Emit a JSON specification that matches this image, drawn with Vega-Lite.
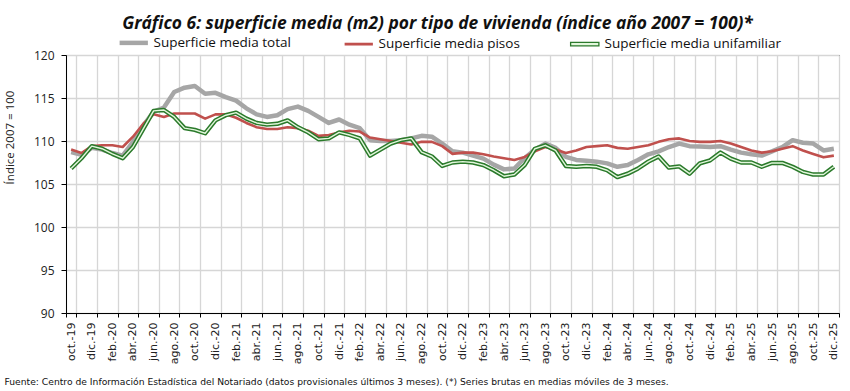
{
  "$schema": "https://vega.github.io/schema/vega-lite/v6.json",
  "width": 773,
  "height": 258,
  "autosize": "none",
  "padding": {"left": 66, "top": 55, "right": 11, "bottom": 78},
  "background": "white",
  "config": {
    "view": {"stroke": "black", "strokeWidth": 1},
    "axis": {"domainColor": "black", "tickColor": "black", "gridColor": "#D6D6D6", "gridWidth": 1.3, "labelColor": "#222"}
  },
  "title": {
    "text": "Gráfico 6: superficie media (m2) por tipo de vivienda (índice año 2007 = 100)*",
    "font": "Open Sans",
    "fontSize": 17.4,
    "fontStyle": "italic",
    "fontWeight": "bold",
    "color": "#111",
    "anchor": "middle",
    "dx": -15,
    "offset": 4
  },
  "data": {
    "values": [
      {"mes": "oct.-19", "total": 108.7, "pisos": 109.0, "unif": 106.8},
      {"mes": "nov.-19", "total": 108.4, "pisos": 108.6, "unif": 108.0},
      {"mes": "dic.-19", "total": 109.2, "pisos": 109.4, "unif": 109.4},
      {"mes": "ene.-20", "total": 109.0, "pisos": 109.5, "unif": 109.1},
      {"mes": "feb.-20", "total": 108.6, "pisos": 109.5, "unif": 108.5},
      {"mes": "mar.-20", "total": 108.3, "pisos": 109.3, "unif": 108.0},
      {"mes": "abr.-20", "total": 109.9, "pisos": 110.5, "unif": 109.3},
      {"mes": "may.-20", "total": 111.8, "pisos": 112.0, "unif": 111.4},
      {"mes": "jun.-20", "total": 113.4, "pisos": 113.1, "unif": 113.5},
      {"mes": "jul.-20", "total": 113.9, "pisos": 112.8, "unif": 113.6},
      {"mes": "ago.-20", "total": 115.7, "pisos": 113.2, "unif": 112.8},
      {"mes": "sep.-20", "total": 116.2, "pisos": 113.2, "unif": 111.5},
      {"mes": "oct.-20", "total": 116.4, "pisos": 113.2, "unif": 111.3},
      {"mes": "nov.-20", "total": 115.5, "pisos": 112.6, "unif": 110.9},
      {"mes": "dic.-20", "total": 115.6, "pisos": 113.1, "unif": 112.4},
      {"mes": "ene.-21", "total": 115.1, "pisos": 113.1, "unif": 113.0},
      {"mes": "feb.-21", "total": 114.7, "pisos": 112.7, "unif": 113.3},
      {"mes": "mar.-21", "total": 113.8, "pisos": 112.1, "unif": 112.6},
      {"mes": "abr.-21", "total": 113.1, "pisos": 111.6, "unif": 112.1},
      {"mes": "may.-21", "total": 112.8, "pisos": 111.4, "unif": 111.9},
      {"mes": "jun.-21", "total": 113.0, "pisos": 111.4, "unif": 112.0},
      {"mes": "jul.-21", "total": 113.7, "pisos": 111.6, "unif": 112.4},
      {"mes": "ago.-21", "total": 114.0, "pisos": 111.5, "unif": 111.6},
      {"mes": "sep.-21", "total": 113.5, "pisos": 111.2, "unif": 111.0},
      {"mes": "oct.-21", "total": 112.8, "pisos": 110.6, "unif": 110.2},
      {"mes": "nov.-21", "total": 112.1, "pisos": 110.7, "unif": 110.3},
      {"mes": "dic.-21", "total": 112.5, "pisos": 111.0, "unif": 111.0},
      {"mes": "ene.-22", "total": 111.9, "pisos": 111.2, "unif": 110.7},
      {"mes": "feb.-22", "total": 111.5, "pisos": 111.1, "unif": 110.3},
      {"mes": "mar.-22", "total": 110.1, "pisos": 110.4, "unif": 108.3},
      {"mes": "abr.-22", "total": 110.0, "pisos": 110.2, "unif": 109.0},
      {"mes": "may.-22", "total": 110.0, "pisos": 110.0, "unif": 109.7},
      {"mes": "jun.-22", "total": 110.1, "pisos": 109.8, "unif": 110.1},
      {"mes": "jul.-22", "total": 110.3, "pisos": 109.6, "unif": 110.3},
      {"mes": "ago.-22", "total": 110.6, "pisos": 109.9, "unif": 108.7},
      {"mes": "sep.-22", "total": 110.5, "pisos": 109.9, "unif": 108.2},
      {"mes": "oct.-22", "total": 109.7, "pisos": 109.4, "unif": 107.1},
      {"mes": "nov.-22", "total": 108.8, "pisos": 108.5, "unif": 107.5},
      {"mes": "dic.-22", "total": 108.65, "pisos": 108.65, "unif": 107.6},
      {"mes": "ene.-23", "total": 108.3, "pisos": 108.65, "unif": 107.5},
      {"mes": "feb.-23", "total": 107.95, "pisos": 108.45, "unif": 107.2},
      {"mes": "mar.-23", "total": 107.25, "pisos": 108.2, "unif": 106.6},
      {"mes": "abr.-23", "total": 106.7, "pisos": 108.0, "unif": 105.9},
      {"mes": "may.-23", "total": 106.8, "pisos": 107.8, "unif": 106.1},
      {"mes": "jun.-23", "total": 108.0, "pisos": 108.15, "unif": 107.2},
      {"mes": "jul.-23", "total": 109.0, "pisos": 108.8, "unif": 109.1},
      {"mes": "ago.-23", "total": 109.7, "pisos": 109.3, "unif": 109.5},
      {"mes": "sep.-23", "total": 109.2, "pisos": 109.0, "unif": 108.9},
      {"mes": "oct.-23", "total": 108.15, "pisos": 108.6, "unif": 107.1},
      {"mes": "nov.-23", "total": 107.8, "pisos": 108.9, "unif": 107.0},
      {"mes": "dic.-23", "total": 107.7, "pisos": 109.3, "unif": 107.1},
      {"mes": "ene.-24", "total": 107.6, "pisos": 109.4, "unif": 107.0},
      {"mes": "feb.-24", "total": 107.4, "pisos": 109.5, "unif": 106.6},
      {"mes": "mar.-24", "total": 107.0, "pisos": 109.2, "unif": 105.8},
      {"mes": "abr.-24", "total": 107.2, "pisos": 109.1, "unif": 106.2},
      {"mes": "may.-24", "total": 107.8, "pisos": 109.3, "unif": 106.8},
      {"mes": "jun.-24", "total": 108.45, "pisos": 109.5, "unif": 107.6},
      {"mes": "jul.-24", "total": 108.8, "pisos": 109.9, "unif": 108.2},
      {"mes": "ago.-24", "total": 109.3, "pisos": 110.2, "unif": 106.9},
      {"mes": "sep.-24", "total": 109.7, "pisos": 110.3, "unif": 107.05},
      {"mes": "oct.-24", "total": 109.4, "pisos": 110.0, "unif": 106.2},
      {"mes": "nov.-24", "total": 109.35, "pisos": 109.9, "unif": 107.4},
      {"mes": "dic.-24", "total": 109.3, "pisos": 109.9, "unif": 107.75},
      {"mes": "ene.-25", "total": 109.4, "pisos": 110.0, "unif": 108.65},
      {"mes": "feb.-25", "total": 109.0, "pisos": 109.7, "unif": 107.95},
      {"mes": "mar.-25", "total": 108.65, "pisos": 109.3, "unif": 107.5},
      {"mes": "abr.-25", "total": 108.45, "pisos": 108.9, "unif": 107.5},
      {"mes": "may.-25", "total": 108.3, "pisos": 108.65, "unif": 107.0},
      {"mes": "jun.-25", "total": 108.8, "pisos": 108.8, "unif": 107.45},
      {"mes": "jul.-25", "total": 109.3, "pisos": 109.1, "unif": 107.45},
      {"mes": "ago.-25", "total": 110.1, "pisos": 109.4, "unif": 107.0},
      {"mes": "sep.-25", "total": 109.8, "pisos": 108.9, "unif": 106.4},
      {"mes": "oct.-25", "total": 109.7, "pisos": 108.5, "unif": 106.1},
      {"mes": "nov.-25", "total": 108.9, "pisos": 108.1, "unif": 106.1},
      {"mes": "dic.-25", "total": 109.1, "pisos": 108.3, "unif": 107.0}
    ]
  },
  "transform": [{"fold": ["total", "pisos", "unif"], "as": ["serie", "valor"]}],
  "encoding": {
    "x": {
      "field": "mes",
      "type": "ordinal",
      "sort": null,
      "bandPosition": 0.5,
      "scale": {"type": "band", "paddingInner": 0, "paddingOuter": 0},
      "axis": {
        "values": ["oct.-19", "dic.-19", "feb.-20", "abr.-20", "jun.-20", "ago.-20", "oct.-20", "dic.-20", "feb.-21", "abr.-21", "jun.-21", "ago.-21", "oct.-21", "dic.-21", "feb.-22", "abr.-22", "jun.-22", "ago.-22", "oct.-22", "dic.-22", "feb.-23", "abr.-23", "jun.-23", "ago.-23", "oct.-23", "dic.-23", "feb.-24", "abr.-24", "jun.-24", "ago.-24", "oct.-24", "dic.-24", "feb.-25", "abr.-25", "jun.-25", "ago.-25", "oct.-25", "dic.-25"],
        "tickBand": "extent",
        "grid": true,
        "labelAngle": 270,
        "labelAlign": "right",
        "labelBaseline": "middle",
        "labelFont": "DejaVu Sans",
        "labelFontSize": 11,
        "labelPadding": 5,
        "tickSize": 4,
        "title": "Fuente: Centro de Información Estadística del Notariado (datos provisionales últimos 3 meses). (*) Series brutas en medias móviles de 3 meses.",
        "titleFont": "DejaVu Sans",
        "titleFontSize": 9.2,
        "titleFontWeight": "normal",
        "titleColor": "#111",
        "titleAnchor": "start",
        "titleAlign": "left",
        "titleBaseline": "alphabetic",
        "titleX": -62,
        "titleY": 71
      }
    },
    "y": {
      "field": "valor",
      "type": "quantitative",
      "scale": {"domain": [90, 120], "nice": false, "zero": false},
      "axis": {
        "values": [90, 95, 100, 105, 110, 115, 120],
        "grid": true,
        "labelFont": "Open Sans",
        "labelFontSize": 12,
        "labelPadding": 7,
        "tickSize": 5,
        "title": "Índice 2007 = 100",
        "titleFont": "Open Sans",
        "titleFontSize": 11.5,
        "titleFontWeight": "normal",
        "titleColor": "#222",
        "titleX": -51,
        "titleY": 82,
        "titleAngle": 270,
        "titleAlign": "center",
        "titleBaseline": "bottom"
      }
    },
    "color": {
      "field": "serie",
      "type": "nominal",
      "scale": {"domain": ["total", "pisos", "unif"], "range": ["#A6A6A6", "#C0504D", "#2B7A2B"]},
      "legend": {
        "orient": "none",
        "legendX": 61,
        "legendY": -19,
        "direction": "horizontal",
        "title": null,
        "padding": 0,
        "symbolType": "stroke",
        "symbolSize": 800,
        "symbolStrokeWidth": 4,
        "labelFont": "Open Sans",
        "labelFontSize": 13.5,
        "labelColor": "#111",
        "labelOffset": 13,
        "labelLimit": 400,
        "columnPadding": 48,
        "labelExpr": "datum.value === 'total' ? 'Superficie media total' : (datum.value === 'pisos' ? 'Superficie media pisos' : 'Superficie media unifamiliar')",
        "encode": {
          "symbols": {
            "update": {
              "shape": {"signal": "datum.value === 'unif' ? 'M-1,-0.12L1,-0.12L1,0.12L-1,0.12Z' : 'stroke'"},
              "fill": {"signal": "datum.value === 'unif' ? '#E2F7DC' : 'transparent'"},
              "strokeWidth": {"signal": "datum.value === 'pisos' ? 2.8 : (datum.value === 'unif' ? 1.3 : 4.5)"}
            }
          }
        }
      }
    }
  },
  "layer": [
    {"transform": [{"filter": "datum.serie === 'total'"}], "mark": {"type": "line", "strokeWidth": 4.5, "strokeJoin": "round"}},
    {"transform": [{"filter": "datum.serie === 'pisos'"}], "mark": {"type": "line", "strokeWidth": 2.6, "strokeJoin": "round"}},
    {"transform": [{"filter": "datum.serie === 'unif'"}], "mark": {"type": "line", "strokeWidth": 4.4, "strokeJoin": "round"}},
    {"transform": [{"filter": "datum.serie === 'unif'"}], "mark": {"type": "line", "strokeWidth": 1.4, "strokeJoin": "round"}, "encoding": {"color": {"value": "#E2F7DC"}}}
  ]
}
